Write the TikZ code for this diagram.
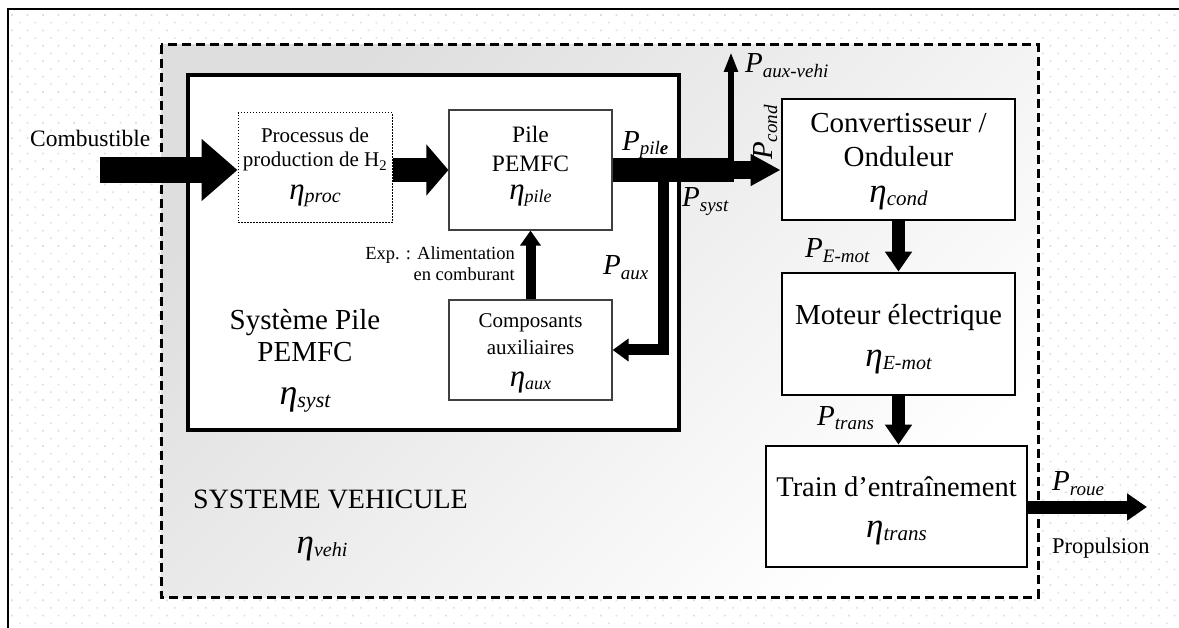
\documentclass[tikz,border=0pt]{standalone}
\usepackage{fontspec}
\setmainfont{Liberation Serif}
\usetikzlibrary{arrows.meta}
% base, sub, base size, sub size, lowering
\newcommand\sy[5]{{\fontsize{#3}{#3}\selectfont\itshape #1}\raisebox{-#5pt}{\fontsize{#4}{#4}\selectfont\itshape #2}}
\newcommand\fs[1]{\fontsize{#1}{#1}\selectfont}
\begin{document}
\begin{tikzpicture}[x=1pt,y=-1pt,
  box/.style={draw, fill=white, inner sep=0pt, line width=2.8pt},
  thinbox/.style={draw=black!75, fill=white, inner sep=0pt, line width=1.2pt},
  dotbox/.style={draw, fill=white, inner sep=0pt, line width=1pt, dash pattern=on 1.5pt off 1.5pt},
  txt/.style={inner sep=0pt, anchor=base},
  ltxt/.style={inner sep=0pt, anchor=base west},
  rtxt/.style={inner sep=0pt, anchor=base east},
  midarrow/.style={line width=13pt, -{Triangle[width=26pt,length=20pt]}},
  smallarrow/.style={line width=10pt, -{Triangle[width=20pt,length=15pt]}},
  thinarrow/.style={line width=6pt, -{Triangle[width=13pt,length=20pt]}}]
\useasboundingbox (0,0) rectangle (1179,628);
\fill[white] (0,0) rectangle (1179,628);
% dotted background
\foreach \j in {0,...,40} {
  \fill[black!13] \foreach \i in {0,...,75} {(11.2+\i*15.5, 14.2+\j*15.4) rectangle ++(1.6,1.6)};
  \fill[black!13] \foreach \i in {0,...,75} {(19+\i*15.5, 21.9+\j*15.4) rectangle ++(1.6,1.6)};
}
% frame
\draw[line width=1.8pt] (8,628) -- (8,9) -- (1179,9);
% vehicle system (dashed)
\shade[top color=black!13, bottom color=white, shading angle=45] (161,45) rectangle (1038,597);
\draw[line width=3pt, dash pattern=on 9pt off 5pt] (161,45) rectangle (1038,597);
% fuel cell system box
\node[box, line width=3.2pt, minimum width=491pt, minimum height=355pt] (sys) at (433.5,252.5) {};
% inner boxes
\node[dotbox, minimum width=154pt, minimum height=110pt] (proc) at (315,168) {};
\node[thinbox, minimum width=163pt, minimum height=120pt] (pile) at (530.5,170) {};
\node[thinbox, minimum width=163pt, minimum height=100pt] (comp) at (530.5,350) {};
\node[box, minimum width=233pt, minimum height=121pt] (conv) at (898.5,159.5) {};
\node[box, minimum width=233pt, minimum height=122pt] (mot) at (898.5,334) {};
\node[box, minimum width=261pt, minimum height=121pt] (train) at (896.5,506.5) {};
% coordinates
\coordinate (comb) at (100,170);
\coordinate (J) at (731,170);
\coordinate (JA) at (663.5,170);
\coordinate (vehi) at (731,52);
\coordinate (roue) at (1147,507);
% arrows
\draw[line width=26pt, -{Triangle[width=60pt,length=36pt]}] (comb) -- (proc.west |- comb);
\draw[line width=24pt, -{Triangle[width=50pt,length=22pt]}] (proc.east |- pile.west) -- (pile.west);
\draw[line width=11pt] (JA) -- ++(0,12);
\draw[line width=11pt, -{Triangle[width=22pt,length=16pt]}] (JA) |- (comp.east);
\draw[line width=24pt] (pile.east) -- ([xshift=3pt]J);
\draw[thinarrow] ([yshift=-8pt]J) -- (vehi);
\draw[line width=18pt, -{Triangle[width=30pt,length=30pt]}] (J) -- (conv.west |- J);
\draw[smallarrow] (comp.north) -- (pile.south);
\draw[midarrow] (conv.south) -- (mot.north);
\draw[midarrow] (mot.south) -- (mot.south |- train.north);
\draw[midarrow] (train.east |- roue) -- (roue);
% texts
\node[ltxt] (tcomb) at (30,147) {\fs{23.5}Combustible};
\node[txt] (tproc1) at (315,143) {\fs{21}Processus de};
\node[txt] (tproc2) at (315,167) {\fs{21}production de H\textsubscript{2}};
\node[txt] (tproc3) at (315,200) {\sy{η}{proc}{31}{20}{3}};
\node[txt] (tpile1) at (530.5,143) {\fs{23.5}Pile};
\node[txt] (tpile2) at (530.5,172) {\fs{23.5}PEMFC};
\node[txt] (tpile3) at (530.5,200) {\sy{η}{pile}{31}{18}{3}};
\node[txt] (tcomp1) at (530.5,328) {\fs{21}Composants};
\node[txt] (tcomp2) at (530.5,355) {\fs{21}auxiliaires};
\node[txt] (tcomp3) at (530.5,387) {\sy{η}{aux}{31}{18}{3}};
\node[rtxt] (texp1) at (515,260) {\fs{18.5}Exp. : Alimentation};
\node[rtxt] (texp2) at (515,281) {\fs{18.5}en comburant};
\node[txt] (tsys1) at (305,330) {\fs{29}Système Pile};
\node[txt] (tsys2) at (305,362) {\fs{29}PEMFC};
\node[txt] (tsys3) at (305,405) {\sy{η}{syst}{36}{22}{3}};
\node[ltxt] (tveh1) at (193,508) {\fs{28}SYSTEME VEHICULE};
\node[txt] (tveh2) at (322,553) {\sy{η}{vehi}{35}{20}{3}};
\node[txt] (tconv1) at (898.5,133) {\fs{29}Convertisseur /};
\node[txt] (tconv2) at (898.5,167) {\fs{29}Onduleur};
\node[txt] (tconv3) at (898.5,203) {\sy{η}{cond}{35}{21}{3}};
\node[txt] (tmot1) at (898.5,325) {\fs{29}Moteur électrique};
\node[txt] (tmot2) at (898.5,367) {\sy{η}{E-mot}{35}{20}{3}};
\node[txt] (ttr1) at (896.5,496) {\fs{28.5}Train d’entraînement};
\node[txt] (ttr2) at (896.5,537) {\sy{η}{trans}{35}{21}{3}};
% power labels
\node[ltxt] (ppile) at (622,151) {\sy{P}{pil\textbf{e}}{29}{19}{4}};
\node[ltxt] (psyst) at (682,207) {\sy{P}{syst}{29}{19}{5}};
\node[ltxt] (paux) at (603,275) {\sy{P}{aux}{29}{19}{5}};
\node[ltxt] (pvehi) at (745,73) {\sy{P}{aux-vehi}{29}{19}{5}};
\node[ltxt, rotate=90] (pcond) at (772,160) {\sy{P}{cond}{29}{19}{5}};
\node[ltxt] (pemot) at (805,258) {\sy{P}{E-mot}{29}{19}{5}};
\node[ltxt] (ptrans) at (817,425) {\sy{P}{trans}{29}{19}{5}};
\node[ltxt] (proue) at (1052,490) {\sy{P}{roue}{29}{19}{5}};
\node[ltxt] (tprop) at (1052,553) {\fs{22.5}Propulsion};
\end{tikzpicture}
\end{document}
